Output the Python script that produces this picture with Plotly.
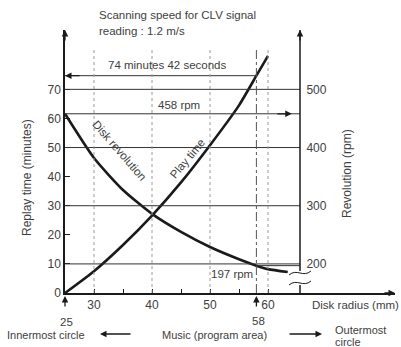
import plotly.graph_objects as go

# ---------------- data ----------------
radius_mm = [25, 30, 35, 40, 45, 50, 55, 58, 60]
play_time_min = [0, 7.5, 16.5, 26.6, 38.0, 50.8, 64.5, 74.7, 81.5]

rev_radius_mm = [25, 30, 35, 40, 45, 50, 55, 58, 60, 63.4]
disk_rpm = [458, 382, 327, 286, 255, 229, 208, 197, 191, 186]

left_ticks = [0, 10, 20, 30, 40, 50, 60, 70]
right_ticks = [200, 300, 400, 500]
x_ticks = [30, 35, 40, 45, 50, 55, 60]
x_ticktext = ["30", "", "40", "", "50", "", "60"]
grid_minutes = [10, 30, 50, 70]
guide_radius = [30, 40, 50, 60]
marker_radius = [25, 58]
total_time_min = 74.7      # 74 minutes 42 seconds
inner_rpm = 458
outer_rpm = 197
outer_radius = 58

# ---------------- layout geometry ----------------
W, H = 401, 347
L, R, T, B = 65, 6, 30, 54
PW, PH = W - L - R, H - T - B
PXMM = 5.8
X0 = 25
X1 = X0 + PW / PXMM
YMAX = 90.4
XR = X0 + 235 / PXMM          # right axis position (data x)
Y2MIN, Y2MAX = 150, 150 + 5 * YMAX

INK = "#1a1a1a"
TXT = "#404040"
FONT = "Liberation Sans"


def px(xp):
    return (xp - L) / PW


def py(yp):
    return (H - B - yp) / PH


fig = go.Figure()
fig.add_trace(go.Scatter(x=radius_mm, y=play_time_min, mode="lines",
                         line=dict(color=INK, width=2.6, shape="spline", smoothing=0.6),
                         yaxis="y", hoverinfo="skip", showlegend=False))
fig.add_trace(go.Scatter(x=rev_radius_mm, y=disk_rpm, mode="lines",
                         line=dict(color=INK, width=2.6, shape="spline", smoothing=0.6),
                         yaxis="y2", hoverinfo="skip", showlegend=False))

shapes = []
for m in grid_minutes:
    shapes.append(dict(type="line", xref="x", yref="y", x0=X0, x1=XR, y0=m, y1=m,
                       line=dict(color="#333", width=1)))
shapes.append(dict(type="line", xref="x", yref="y2", x0=X0, x1=XR, y0=inner_rpm, y1=inner_rpm,
                   line=dict(color="#333", width=1)))
shapes.append(dict(type="line", xref="x", yref="y2", x0=outer_radius, x1=XR, y0=outer_rpm, y1=outer_rpm,
                   line=dict(color="#333", width=1)))
shapes.append(dict(type="line", xref="x", yref="y", x0=X0, x1=outer_radius, y0=total_time_min, y1=total_time_min,
                   line=dict(color="#333", width=1)))
for r in guide_radius:
    shapes.append(dict(type="line", xref="x", yref="y", x0=r, x1=r, y0=0, y1=83.5,
                       line=dict(color="#9a9a9a", width=1, dash="dot")))
shapes.append(dict(type="line", xref="x", yref="y", x0=outer_radius, x1=outer_radius, y0=0, y1=83.5,
                   line=dict(color="#555", width=1, dash="dashdot")))
# right axis line with a break
shapes.append(dict(type="line", xref="x", yref="paper", x0=XR, x1=XR, y0=py(271), y1=1.0,
                   line=dict(color=INK, width=1.5)))
shapes.append(dict(type="line", xref="x", yref="paper", x0=XR, x1=XR, y0=0, y1=py(285),
                   line=dict(color=INK, width=1.5)))
for yy in (273, 283):
    path = "M %.4f,%.4f C %.4f,%.4f %.4f,%.4f %.4f,%.4f" % (
        px(289), py(yy + 2), px(297), py(yy - 5), px(303), py(yy + 5), px(311), py(yy - 2))
    shapes.append(dict(type="path", xref="paper", yref="paper", path=path,
                       line=dict(color=INK, width=1)))

ann = []


def arrow(x, y, ax, ay, xref="x", yref="y"):
    ann.append(dict(x=x, y=y, xref=xref, yref=yref, ax=ax, ay=ay, text="", showarrow=True,
                    arrowhead=2, arrowsize=1, arrowwidth=1.3, arrowcolor=INK))


def text(t, xp, yp, size=11.5, angle=0, xanchor="center"):
    ann.append(dict(x=px(xp), y=py(yp), xref="paper", yref="paper", text=t, showarrow=False,
                    textangle=angle, xanchor=xanchor, yanchor="middle",
                    font=dict(family=FONT, size=size, color=TXT)))


arrow(X0, YMAX, 0, 12)
arrow(XR, YMAX, 0, 12)
arrow(X1, 0, -12, 0)
arrow(X0, total_time_min, 16, 0)
arrow(64.1, inner_rpm, -16, 0, yref="y2")
for r in marker_radius:
    arrow(r, py(296), 0, 12, yref="paper")
arrow(px(100), py(334), 32, 0, xref="paper", yref="paper")
arrow(px(322), py(334), -34, 0, xref="paper", yref="paper")

text("Scanning speed for CLV signal", 97, 15, xanchor="left")
text("reading : 1.2 m/s", 97, 31, xanchor="left")
text("74 minutes 42 seconds", 167, 65)
text("458 rpm", 179, 105)
text("197 rpm", 232, 274)
text("Disk revolution", 119, 150, angle=49)
text("Play time", 187, 159, angle=-50)
text("Replay time (minutes)", 27, 178, size=12, angle=-90)
text("Revolution (rpm)", 347, 174, size=12, angle=-90)
text("Disk radius (mm)", 355, 305, size=11.5)
text("25", 66, 322, size=11.5)
text("58", 258, 321, size=11.5)
text("Innermost circle", 46, 335, size=11)
text("Music (program area)", 214, 335, size=11)
text("Outermost", 333, 330, size=11, xanchor="left")
text("circle", 333, 342, size=11, xanchor="left")

fig.update_layout(
    width=W, height=H,
    margin=dict(l=L, r=R, t=T, b=B, pad=0),
    paper_bgcolor="white", plot_bgcolor="white",
    font=dict(family=FONT, size=12, color=TXT),
    showlegend=False,
    shapes=shapes, annotations=ann,
    xaxis=dict(range=[X0, X1], showline=True, linecolor=INK, linewidth=1.5,
               ticks="inside", ticklen=4, tickcolor=INK, tickvals=x_ticks, ticktext=x_ticktext,
               showgrid=False, zeroline=False, fixedrange=True,
               tickfont=dict(family=FONT, size=12, color=TXT)),
    yaxis=dict(range=[0, YMAX], showline=True, linecolor=INK, linewidth=1.5,
               ticks="inside", ticklen=5, tickcolor=INK, tickvals=left_ticks,
               showgrid=False, zeroline=False, fixedrange=True,
               tickfont=dict(family=FONT, size=12, color=TXT)),
    yaxis2=dict(range=[Y2MIN, Y2MAX], overlaying="y", anchor="free", position=235 / PW,
                side="right", showline=False, ticks="outside", ticklen=3,
                tickcolor="rgba(0,0,0,0)", tickvals=right_ticks,
                showgrid=False, zeroline=False, fixedrange=True,
                tickfont=dict(family=FONT, size=12, color=TXT)),
)

fig.write_html("out.html", config={"displayModeBar": False})
with open("out.html", encoding="utf-8") as f:
    html = f.read()
html = html.replace("<body>", '<body style="margin:0;padding:0;overflow:hidden">', 1)
html = html.replace("<head>", "<head><style>html,body{margin:0;padding:0;}</style>", 1)
with open("out.html", "w", encoding="utf-8") as f:
    f.write(html)
